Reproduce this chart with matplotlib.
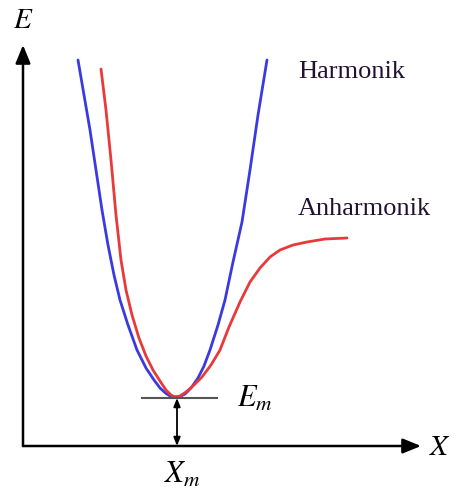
import matplotlib
matplotlib.use("Agg")
import matplotlib.pyplot as plt

plt.rcParams['mathtext.fontset'] = 'stix'

# kurva harmonik (parabola) dan anharmonik (Morse), koordinat gambar
harm_x = [78, 84, 90, 96, 102, 108, 114, 120, 128, 137, 146, 154, 160, 166, 171, 175,
          180, 185, 191, 198, 204, 210, 218, 225, 233, 242, 250, 258, 267]
harm_y = [60, 95, 130, 170, 210, 245, 275, 300, 325, 350, 368, 380, 388, 393.5, 396.5, 397,
          396.5, 394, 388, 378, 366, 350, 325, 300, 262, 222, 170, 115, 60]

anh_x = [101, 106, 111, 116, 121, 126, 132, 139, 146, 153, 160, 166, 171, 175,
         180, 186, 193, 202, 211, 220, 229, 240, 250, 260, 270, 280, 293, 307, 325, 347]
anh_y = [69, 110, 160, 215, 260, 290, 315, 338, 356, 370, 381, 390, 395, 397,
         396, 392, 386, 377, 365, 350, 327, 302, 282, 268, 257, 250, 245, 242, 239, 238]

x_min, e_min = 177, 398
origin = (23, 446)

fig = plt.figure(figsize=(4.54, 4.95), dpi=100)
ax = fig.add_axes([0, 0, 1, 1])
ax.set_xlim(0, 454)
ax.set_ylim(495, 0)
ax.axis('off')

ax.plot(harm_x, harm_y, color='#3a3ae0', lw=2.0, solid_capstyle='round',
        solid_joinstyle='round')
ax.plot(anh_x, anh_y, color='#e83a3a', lw=2.0, solid_capstyle='round',
        solid_joinstyle='round')

# sumbu E dan X
head = dict(arrowstyle='-|>,head_length=1.1,head_width=0.45', color='black',
            lw=1.8, shrinkA=0, shrinkB=0)
ax.annotate('', xy=(origin[0], 45), xytext=(origin[0], origin[1]), arrowprops=head)
ax.annotate('', xy=(421, origin[1]), xytext=(origin[0], origin[1]), arrowprops=head)

# garis energi minimum dan panah ganda
ax.plot([142, 217], [e_min, e_min], color='#555555', lw=1.5)
ax.annotate('', xy=(x_min, e_min), xytext=(x_min, origin[1]),
            arrowprops=dict(arrowstyle='<|-|>,head_length=0.5,head_width=0.2',
                            color='black', lw=1.3, shrinkA=0, shrinkB=0))

ax.text(23, 20, r'$E$', fontsize=21, ha='center', va='center')
ax.text(440, 447, r'$X$', fontsize=21, ha='center', va='center')
ax.text(237, 398, r'$E_m$', fontsize=22, ha='left', va='center')
ax.text(182, 474, r'$X_m$', fontsize=22, ha='center', va='center')

ax.text(298, 72, 'Harmonik', fontsize=19, family='Liberation Serif',
        ha='left', va='center', color='#221133')
ax.text(298, 209, 'Anharmonik', fontsize=19, family='Liberation Serif',
        ha='left', va='center', color='#221133')

fig.savefig('out.png', dpi=100)
